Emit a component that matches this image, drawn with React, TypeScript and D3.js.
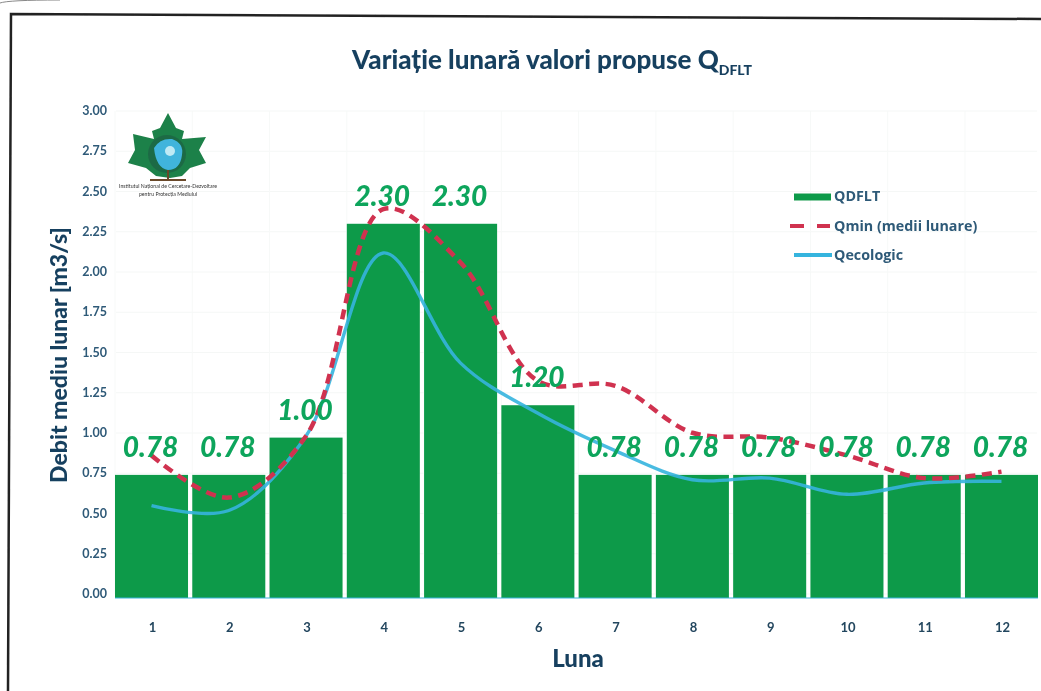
import React from "react";
import * as d3 from "d3";

const months = ["1","2","3","4","5","6","7","8","9","10","11","12"];
const qdflt = [0.76,0.76,0.99,2.31,2.31,1.19,0.76,0.76,0.76,0.76,0.76,0.76];
const barLabels = ["0.78","0.78","1.00","2.30","2.30","1.20","0.78","0.78","0.78","0.78","0.78","0.78"];
const qmin = [0.88,0.62,1.0,2.4,2.07,1.34,1.31,1.02,0.99,0.88,0.74,0.78];
const qecologic = [0.57,0.54,1.0,2.13,1.45,1.14,0.91,0.73,0.74,0.64,0.71,0.72];
const yTicks = [0,0.25,0.5,0.75,1,1.25,1.5,1.75,2,2.25,2.5,2.75,3];

const W = 1041, H = 691;
const FONT = "Lato, 'Open Sans', sans-serif";
const AXIS = "#2f5a78";
const TITLE = "#163f5e";
const GREEN = "#0f9a4a";
const LABEL = "#0fa55c";
const RED = "#d03350";
const BLUE = "#35b4de";

export default function App() {
  const x = d3.scaleBand().domain(months).range([115, 1038]).paddingInner(0.055).paddingOuter(0);
  const y = d3.scaleLinear().domain([0, 3]).range([598, 112]);
  const yLabel = d3.scaleLinear().domain([0, 3]).range([594, 111]);
  const cx = (i: number) => (x(months[i]) as number) + x.bandwidth() / 2;
  const line = d3.line<number>().x((_, i) => cx(i)).y(d => y(d)).curve(d3.curveCatmullRom.alpha(0.5));
  return (
    <svg width={W} height={H} style={{ position: "absolute", left: 0, top: 0, background: "#fff" }} fontFamily={FONT}>
      <defs>
        <filter id="soft" x="-5%" y="-5%" width="110%" height="110%">
          <feGaussianBlur stdDeviation="0.55" />
        </filter>
      </defs>
      <g filter="url(#soft)">
        <path d="M8,691 L11,14 L1041,19" fill="none" stroke="#222" strokeWidth={2.5} />
        <path d="M0,3 Q8,0 60,0" fill="none" stroke="#888" strokeWidth={1} />
        {yTicks.map(t => (
          <line key={t} x1={116} x2={1037} y1={yLabel(t)} y2={yLabel(t)} stroke="#f5f7f6" strokeWidth={1} />
        ))}
        {months.map(m => (
          <line key={m} x1={x(m)} x2={x(m)} y1={111} y2={594} stroke="#f7f9f8" strokeWidth={1} />
        ))}
        {months.map((m, i) => (
          <rect key={m} x={x(m)} y={y(qdflt[i])} width={x.bandwidth()} height={y(0) - y(qdflt[i])} fill={GREEN} />
        ))}
        <line x1={115} x2={1038} y1={y(0)} y2={y(0)} stroke="#39b5dc" strokeWidth={1} />
        <path d={line(qecologic) ?? ""} fill="none" stroke={BLUE} strokeWidth={3.4} strokeOpacity={0.9} />
        <path d={line(qmin) ?? ""} fill="none" stroke={RED} strokeWidth={4.5} strokeDasharray="10 6.5" />

        {yTicks.map(t => (
          <text key={t} x={107} y={yLabel(t) + 4} textAnchor="end" fontSize={12.5} fontWeight={700} fill={AXIS}>{t.toFixed(2)}</text>
        ))}
        {months.map(m => (
          <text key={m} x={(x(m) as number) + x.bandwidth() / 2 + 1} y={632} textAnchor="middle" fontSize={13} fontWeight={700} fill="#24465e">{m}</text>
        ))}
        {months.map((m, i) => (
          <text key={m} x={(x(m) as number) + x.bandwidth() / 2 - 1} y={y(qdflt[i]) - 18} textAnchor="middle" fontSize={28} fontWeight={900} fontStyle="italic" fill={LABEL}>{barLabels[i]}</text>
        ))}

        <text x={552} y={69} textAnchor="middle" fontSize={26} fontWeight={900} fill={TITLE}>
          Variație lunară valori propuse Q<tspan dy={6} fontSize={14}>DFLT</tspan>
        </text>
        <text x={578} y={667} textAnchor="middle" fontSize={24} fontWeight={900} fill={TITLE}>Luna</text>
        <text transform="translate(67,355) rotate(-90)" textAnchor="middle" fontSize={23} fontWeight={900} fill={TITLE}>Debit mediu lunar [m3/s]</text>

        <g fontSize={14.3} fontWeight={700} fill={AXIS} fontFamily="'Open Sans', sans-serif">
          <line x1={794} x2={831} y1={197} y2={197} stroke={GREEN} strokeWidth={7} />
          <text x={834} y={201}>QDFLT</text>
          <line x1={790} x2={830} y1={226} y2={226} stroke={RED} strokeWidth={4} strokeDasharray="14 13" />
          <text x={834} y={231}>Qmin (medii lunare)</text>
          <line x1={794} x2={832} y1={255} y2={255} stroke={BLUE} strokeWidth={4} />
          <text x={834} y={260}>Qecologic</text>
        </g>

        <g>
          <path d="M168,113 L176,128 L184,131 L182,139 L206,137 L199,150 L206,163 L190,168 L182,176 L170,178 L156,176 L146,168 L128,163 L135,150 L133,134 L154,139 L152,131 L160,128 Z" fill="#1f8148" />
          <circle cx={167} cy={154} r={19} fill="#1c6a45" />
          <path d="M154,148 Q160,138 172,139 Q184,143 182,155 Q180,170 168,170 Q156,168 154,148 Z" fill="#3fb4dc" />
          <circle cx={170} cy={151} r={5} fill="#bfeaf5" />
          <path d="M168,170 L168,179 M150,180 L186,180" stroke="#6b4a2c" strokeWidth={2} fill="none" />
          <text x={168} y={188} textAnchor="middle" fontSize={5.2} fill="#333">Institutul Național de Cercetare-Dezvoltare</text>
          <text x={168} y={196} textAnchor="middle" fontSize={5.2} fill="#333">pentru Protecția Mediului</text>
        </g>
      </g>
    </svg>
  );
}
